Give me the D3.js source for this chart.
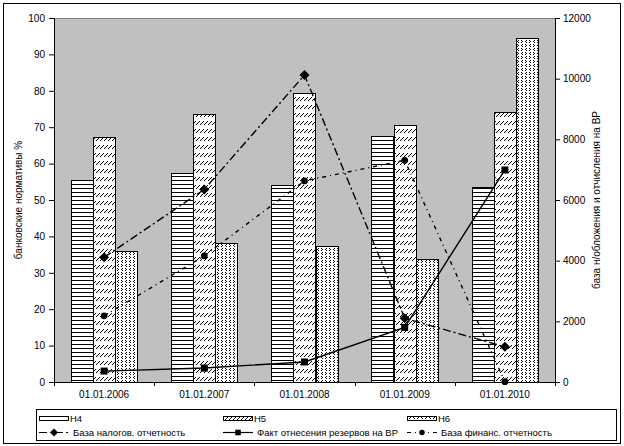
<!DOCTYPE html>
<html>
<head>
<meta charset="utf-8">
<script src="https://cdn.jsdelivr.net/npm/d3@7"></script>
<style>
body { margin: 0; background: #fff; }
text { font-family: "Liberation Sans", Arial, sans-serif; font-size: 10px; }
</style>
</head>
<body>
<svg id="chart" width="624" height="446"></svg>
<script>
// data
var years = ["01.01.2006", "01.01.2007", "01.01.2008", "01.01.2009", "01.01.2010"];
var h4 = [55.5, 57.4, 54.0, 67.5, 53.6];
var h5 = [67.3, 73.5, 79.3, 70.5, 74.2];
var h6 = [35.9, 38.1, 37.5, 33.7, 94.5];
var bazaNalog = [4110, 6350, 10120, 2100, 1160];
var faktRezerv = [360, 460, 660, 1800, 6990];
var bazaFin = [2180, 4160, 6630, 7310, 10];
var leftTicks = [0, 10, 20, 30, 40, 50, 60, 70, 80, 90, 100];
var rightTicks = [0, 2000, 4000, 6000, 8000, 10000, 12000];

var svg = d3.select("#chart");
var L = 54, R = 555, T = 18, B = 382;

// fill tiles (pixel offsets inside a w x h tile)
var tiles = {
	h4: {w: 4, h: 4, px: [[0,0],[1,0],[2,0],[3,0]]},
	h5: {w: 4, h: 8, px: [[0,4],[1,3],[2,2],[3,1]]},
	h6: {w: 8, h: 8, px: [[1,0],[2,1],[1,2],[6,0],[5,1],[6,2],[5,4],[6,5],[5,6],[2,4],[1,5],[2,6]]}
};
// path of tile pixels covering a box, aligned to page grid
function hatch(tile, x0, y0, w, h){
	var d = "";
	var sx = Math.floor(x0 / tile.w) * tile.w, sy = Math.floor(y0 / tile.h) * tile.h;
	for (var ty = sy; ty < y0 + h; ty += tile.h){
		for (var tx = sx; tx < x0 + w; tx += tile.w){
			tile.px.forEach(function(q){
				var px = tx + q[0], py = ty + q[1];
				if (px >= x0 && px < x0 + w && py >= y0 && py < y0 + h){
					d += "M" + px + "," + py + "h1v1h-1z";
				}
			});
		}
	}
	return d;
}

// outer frame
svg.append("rect").attr("x", 3.5).attr("y", 3.5).attr("width", 617).attr("height", 440)
	.attr("fill", "#fff").attr("stroke", "#000");

// plot area
svg.append("rect").attr("x", L).attr("y", T).attr("width", R - L).attr("height", B - T)
	.attr("fill", "#c0c0c0");
svg.append("line").attr("x1", L).attr("x2", R).attr("y1", T + 0.5).attr("y2", T + 0.5)
	.attr("stroke", "#808080");

var x = d3.scaleBand().domain(years).range([L, R]).paddingInner(0).paddingOuter(0);
var yL = d3.scaleLinear().domain([0, 100]).range([B, T]);
var yR = d3.scaleLinear().domain([0, 12000]).range([B, T]);

var bw = x.bandwidth() / 4.5;
var series = [{v: h4, t: tiles.h4}, {v: h5, t: tiles.h5}, {v: h6, t: tiles.h6}];
function drawBar(g, tile, bx, by, w, h){
	g.append("rect").attr("x", bx).attr("y", by).attr("width", w).attr("height", h).attr("fill", "#fff");
	g.append("path").attr("d", hatch(tile, bx + 1, by + 1, w - 1, h - 1)).attr("fill", "#000")
		.attr("shape-rendering", "crispEdges");
	g.append("rect").attr("x", bx + 0.5).attr("y", by + 0.5).attr("width", w).attr("height", h)
		.attr("fill", "none").attr("stroke", "#000");
}
series.forEach(function(s, k){
	var g = svg.append("g");
	s.v.forEach(function(d, i){
		var bx = Math.round(x(years[i]) + 0.75 * bw + k * bw);
		var by = Math.round(yL(d));
		drawBar(g, s.t, bx, by, Math.round(bw), B - by);
	});
});

// axes
var axL = svg.append("g").attr("transform", "translate(" + L + ",0)")
	.call(d3.axisLeft(yL).tickValues(leftTicks).tickSize(5).tickPadding(4));
var axR = svg.append("g").attr("transform", "translate(" + R + ",0)")
	.call(d3.axisRight(yR).tickValues(rightTicks).tickFormat(d3.format("d")).tickSize(5).tickPadding(3));
var axB = svg.append("g").attr("transform", "translate(0," + B + ")")
	.call(d3.axisBottom(x).tickSize(0).tickPadding(9));
[axL, axR, axB].forEach(function(a){
	a.selectAll("line").attr("stroke", "#000");
	a.selectAll("text").attr("fill", "#000").style("font-family", "Liberation Sans, Arial, sans-serif").style("font-size", "10px");
	a.select(".domain").remove();
});
svg.append("line").attr("x1", L + 0.5).attr("x2", L + 0.5).attr("y1", T).attr("y2", B).attr("stroke", "#000");
svg.append("line").attr("x1", R + 0.5).attr("x2", R + 0.5).attr("y1", T).attr("y2", B).attr("stroke", "#000");
svg.append("line").attr("x1", L).attr("x2", R + 1).attr("y1", B + 0.5).attr("y2", B + 0.5).attr("stroke", "#000");
// category boundary ticks
svg.append("g").selectAll("line").data(years.concat(["end"])).enter().append("line")
	.attr("x1", function(d, i){ return Math.round(L + i * x.bandwidth()) + 0.5; })
	.attr("x2", function(d, i){ return Math.round(L + i * x.bandwidth()) + 0.5; })
	.attr("y1", B).attr("y2", B + 4).attr("stroke", "#000");

// axis titles
svg.append("text").attr("transform", "translate(22," + ((T + B) / 2) + ") rotate(-90)")
	.attr("text-anchor", "middle").text("банковские нормативы %");
svg.append("text").attr("transform", "translate(600," + ((T + B) / 2) + ") rotate(-90)")
	.attr("text-anchor", "middle").text("база н/обложения и отчисления на ВР");

// lines
var cx = function(i){ return x(years[i]) + x.bandwidth() / 2; };
var lineR = d3.line().x(function(d, i){ return cx(i); }).y(function(d){ return yR(d); });

var diamond = "M0,-5L5,0L0,5L-5,0Z";
var square = "M-3.5,-3.5H3.5V3.5H-3.5Z";
var circle = d3.symbol().type(d3.symbolCircle).size(36)();

var lines = [
	{v: bazaNalog, dash: "8,3,2,3", sym: diamond},
	{v: faktRezerv, dash: null, sym: square},
	{v: bazaFin, dash: "4,4,1,4", sym: circle}
];
lines.forEach(function(s){
	svg.append("path").attr("d", lineR(s.v)).attr("fill", "none").attr("stroke", "#000")
		.attr("stroke-width", 1.4).attr("stroke-dasharray", s.dash);
	svg.append("g").selectAll("path").data(s.v).enter().append("path")
		.attr("d", s.sym)
		.attr("transform", function(d, i){ return "translate(" + cx(i) + "," + yR(d) + ")"; })
		.attr("fill", "#000");
});

// legend
var lg = svg.append("g");
lg.append("rect").attr("x", 36.5).attr("y", 409.5).attr("width", 580).attr("height", 31)
	.attr("fill", "#fff").attr("stroke", "#000");
var colX = [39, 223, 407];
var row1 = [{t: "Н4", tile: tiles.h4}, {t: "Н5", tile: tiles.h5}, {t: "Н6", tile: tiles.h6}];
row1.forEach(function(d, i){
	drawBar(lg, d.tile, colX[i], 416, 29, 4);
	lg.append("text").attr("x", colX[i] + 31).attr("y", 422).style("font-size", "9.5px").text(d.t);
});
var row2 = [
	{t: "База налогов. отчетность", dash: "8,3,2,3", sym: diamond},
	{t: "Факт отнесения резервов на ВР", dash: null, sym: square},
	{t: "База финанс. отчетность", dash: "4,4,1,4", sym: circle}
];
row2.forEach(function(d, i){
	lg.append("line").attr("x1", colX[i]).attr("x2", colX[i] + 30).attr("y1", 432.5).attr("y2", 432.5)
		.attr("stroke", "#000").attr("stroke-width", 1.2).attr("stroke-dasharray", d.dash);
	lg.append("path").attr("d", d.sym).attr("transform", "translate(" + (colX[i] + 15) + ",432.5) scale(0.8)")
		.attr("fill", "#000");
	lg.append("text").attr("x", colX[i] + 34).attr("y", 436).style("font-size", "9.5px").text(d.t);
});
</script>
</body>
</html>
